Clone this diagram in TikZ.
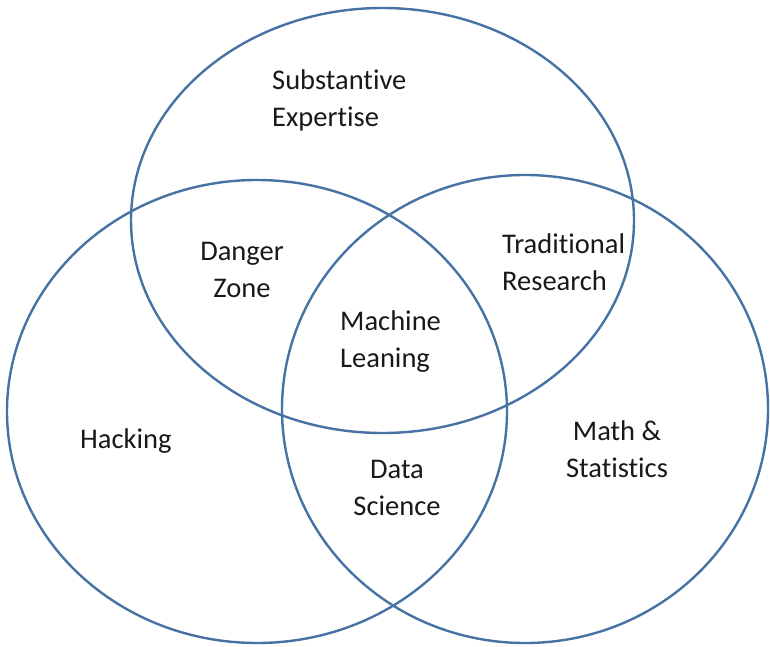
\documentclass[tikz,border=0pt]{standalone}
\usepackage{fontspec}
\setmainfont{Carlito}[Ligatures=NoCommon]
\usepackage{tikz}
\definecolor{ringblue}{RGB}{70,114,164}
\tikzset{%
  ring/.style = {draw=ringblue, line width=2.4pt},
  base/.style = {inner sep=0pt, text=black!90,
                 font=\fontsize{28.5}{37}\selectfont},
  txtl/.style = {base, align=left},
  txtc/.style = {base, align=center},
}

\begin{document}
\begin{tikzpicture}[x=1pt, y=-1pt]
  \useasboundingbox (0,0) rectangle (770,647);

  % the three sets
  \draw[ring] (382.5,220.5) ellipse [x radius=251.5pt, y radius=212.5pt];
  \draw[ring] (257,411.5)   ellipse [x radius=250pt,   y radius=231.5pt];
  \draw[ring] (525,409)     ellipse [x radius=243pt,   y radius=234pt];

  % labels (base = baseline of the last line)
  \node (onSubst)   [txtl, anchor=base west] at (272,127) {Substantive\\Expertise};
  \node (onDanger)  [txtc, anchor=base]      at (242,297) {Danger\\Zone};
  \node (onTrad)    [txtl, anchor=base west] at (502,290) {Traditional\\Research};
  \node (onML)      [txtl, anchor=base west] at (340,367) {Machine\\Leaning};
  \node (onHacking) [txtl, anchor=base west] at (80,448)  {Hacking};
  \node (onDS)      [txtc, anchor=base]      at (397,515) {Data\\Science};
  \node (onMath)    [txtc, anchor=base]      at (617,477) {Math \&\\Statistics};
\end{tikzpicture}
\end{document}
